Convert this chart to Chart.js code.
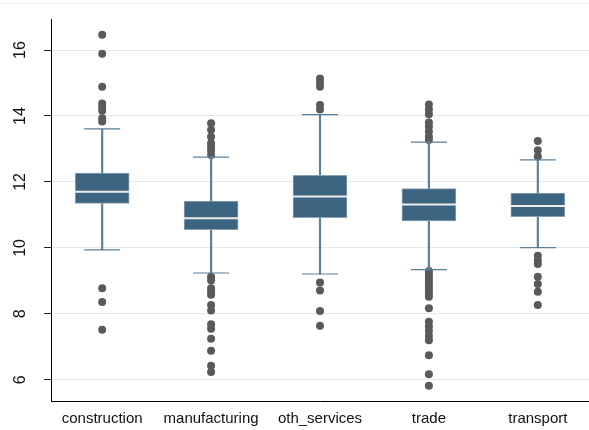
<!DOCTYPE html>
<html>
<head>
<meta charset="utf-8">
<script src="https://cdn.jsdelivr.net/npm/chart.js@4.4.0/dist/chart.umd.min.js"></script>
<style>
  html, body { margin: 0; padding: 0; background: #fff; }
</style>
</head>
<body>
<canvas id="boxChart" width="589" height="430"></canvas>
<script>
var categories = ['construction', 'manufacturing', 'oth_services', 'trade', 'transport'];
var yTicks = [6, 8, 10, 12, 14, 16];

// box stats
var lowerWhisk = [9.94, 9.24, 9.21, 9.34, 10.01];
var q1 = [11.35, 10.55, 10.92, 10.82, 10.95];
var medians = [11.70, 10.90, 11.56, 11.32, 11.27];
var q3 = [12.27, 11.42, 12.20, 11.80, 11.66];
var upperWhisk = [13.61, 12.75, 14.04, 13.21, 12.67];

// outside values
var outConstruction = [16.46, 15.89, 14.89, 14.38, 14.27, 14.16, 13.93, 13.83, 8.78, 8.36, 7.52];
var outManufacturing = [13.78, 13.58, 13.37, 13.17, 13.07, 12.95, 12.82,
    9.13, 9.01, 8.78, 8.68, 8.58, 8.27, 8.10, 7.69, 7.55, 7.25, 6.88, 6.43, 6.24];
var outOthServices = [15.14, 15.01, 14.89, 14.33, 14.20, 8.95, 8.71, 8.09, 7.64];
var outTrade = [14.35, 14.20, 14.05, 13.80, 13.68, 13.53, 13.37, 13.27,
    9.30, 9.22, 9.12, 9.02, 8.92, 8.82, 8.72, 8.62, 8.52, 8.17, 7.76, 7.62, 7.48, 7.33, 7.20, 6.75, 6.17, 5.82];
var outTransport = [13.24, 12.96, 12.77, 9.76, 9.62, 9.51, 9.13, 8.91, 8.67, 8.27];
var outliers = [outConstruction, outManufacturing, outOthServices, outTrade, outTransport];

var boxColor = '#3d6480';
var whiskColor = '#5b7e99';

var boxData = categories.map(function (c, i) { return { x: i, y: [q1[i], q3[i]] }; });
var whiskData = [];
var capData = [];
categories.forEach(function (c, i) {
    whiskData.push({ x: i, y: [lowerWhisk[i], q1[i]] });
    whiskData.push({ x: i, y: [q3[i], upperWhisk[i]] });
    capData.push({ x: i, y: lowerWhisk[i] });
    capData.push({ x: i, y: upperWhisk[i] });
});
var medianData = categories.map(function (c, i) { return { x: i, y: medians[i] }; });
var outData = [];
outliers.forEach(function (arr, i) {
    arr.forEach(function (v) { outData.push({ x: i, y: v }); });
});

// faint outer frame like the stata graph region
var framePlugin = {
    id: 'frame',
    beforeDraw: function (chart) {
        var c = chart.ctx;
        c.save();
        c.strokeStyle = '#ececec';
        c.lineWidth = 1;
        c.beginPath();
        c.moveTo(0, 3.5);
        c.lineTo(chart.width, 3.5);
        c.stroke();
        c.restore();
    }
};

var ctx = document.getElementById('boxChart').getContext('2d');
var myChart = new Chart(ctx, {
    type: 'bar',
    data: {
        datasets: [
            {
                type: 'scatter',
                data: medianData,
                pointStyle: 'line',
                pointRadius: 27,
                borderColor: '#ededed',
                borderWidth: 2,
                order: 0
            },
            {
                data: boxData,
                backgroundColor: boxColor,
                borderColor: '#8aa2b5',
                borderWidth: 1,
                borderSkipped: false,
                barThickness: 54,
                grouped: false,
                order: 1
            },
            {
                type: 'scatter',
                data: capData,
                pointStyle: 'line',
                pointRadius: 18,
                borderColor: whiskColor,
                borderWidth: 1.2,
                order: 2
            },
            {
                data: whiskData,
                backgroundColor: whiskColor,
                borderWidth: 0,
                barThickness: 1.5,
                grouped: false,
                order: 3
            },
            {
                type: 'scatter',
                data: outData,
                pointStyle: 'circle',
                pointRadius: 4,
                backgroundColor: '#5a5a5a',
                borderWidth: 0,
                order: 4
            }
        ]
    },
    options: {
        responsive: false,
        animation: false,
        layout: { autoPadding: false, padding: { top: 19, right: 0, bottom: 0, left: 0 } },
        plugins: {
            legend: { display: false },
            tooltip: { enabled: false }
        },
        scales: {
            x: {
                type: 'linear',
                min: -0.47,
                max: 4.47,
                offset: false,
                grid: { display: false, drawTicks: false },
                border: { color: '#000', width: 1 },
                afterBuildTicks: function (axis) {
                    axis.ticks = categories.map(function (c, i) { return { value: i }; });
                },
                afterFit: function (axis) {
                    axis.height = 29;
                    axis.paddingLeft = 0;
                    axis.paddingRight = 0;
                },
                ticks: {
                    padding: 9,
                    color: '#111',
                    font: { family: 'Liberation Sans', size: 15 },
                    maxRotation: 0,
                    autoSkip: false,
                    callback: function (v) { return categories[v]; }
                }
            },
            y: {
                min: 5.36,
                max: 16.94,
                grid: { color: '#e8e8e8', tickColor: '#222', tickLength: 7 },
                border: { color: '#000', width: 1 },
                afterBuildTicks: function (axis) {
                    axis.ticks = yTicks.map(function (v) { return { value: v }; });
                },
                afterFit: function (axis) {
                    axis.width = 51;
                    axis.paddingTop = 0;
                    axis.paddingBottom = 0;
                },
                ticks: {
                    minRotation: 90,
                    maxRotation: 90,
                    crossAlign: 'center',
                    padding: 15,
                    color: '#111',
                    font: { family: 'Liberation Sans', size: 16 }
                }
            }
        }
    },
    plugins: [framePlugin]
});
</script>
</body>
</html>
